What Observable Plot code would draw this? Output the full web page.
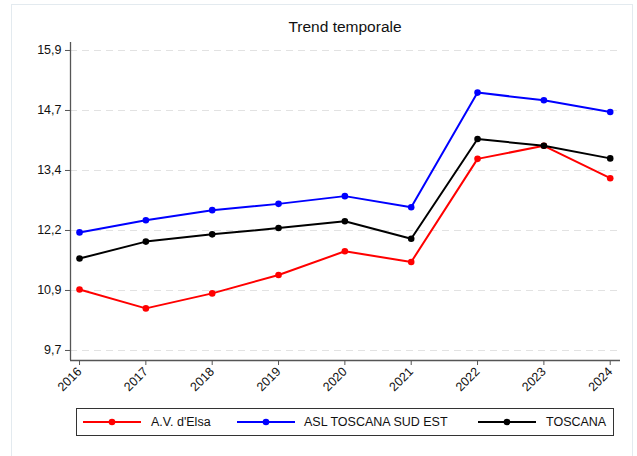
<!DOCTYPE html>
<html><head><meta charset="utf-8">
<script src="https://cdn.jsdelivr.net/npm/d3@7"></script>
<script src="https://cdn.jsdelivr.net/npm/@observablehq/plot@0.6"></script>
<style>
html,body{margin:0;padding:0;background:#fff;}
body{width:637px;height:456px;overflow:hidden;position:relative;font-family:"Liberation Sans",Arial,sans-serif;color:#111;}
#frame{position:absolute;left:11px;top:4px;width:622px;height:480px;border:1px solid #e3eaef;box-sizing:border-box;pointer-events:none;}
#title{height:22px;padding-top:18px;line-height:18px;font-size:15.5px;text-align:center;padding-left:70px;padding-right:17px;}
#chart svg{display:block;}
#legend{position:relative;margin-left:76px;margin-top:3px;width:538px;height:28px;border:1px solid #333;box-sizing:border-box;font-size:12.5px;}
.item-sw{position:absolute;top:8px;}
.item-tx{position:absolute;top:0;line-height:26px;white-space:nowrap;}
</style>
</head><body>
<div id="frame"></div>
<div id="title">Trend temporale</div>
<div id="chart"></div>
<div id="legend"></div>
<script>
const years = [2016, 2017, 2018, 2019, 2020, 2021, 2022, 2023, 2024];
const avElsa = [10.96, 10.57, 10.88, 11.26, 11.75, 11.53, 13.66, 13.93, 13.26];
const aslSudEst = [12.14, 12.39, 12.60, 12.73, 12.89, 12.66, 15.03, 14.87, 14.63];
const toscana = [11.60, 11.95, 12.10, 12.23, 12.37, 12.01, 14.07, 13.93, 13.67];
const seriesNames = ["A.V. d'Elsa", "ASL TOSCANA SUD EST", "TOSCANA"];
const seriesColors = ["#ff0000", "#0000ff", "#000000"];
const yTicks = [9.7, 10.94, 12.18, 13.42, 14.66, 15.9];
const yTickLabels = ["9,7", "10,9", "12,2", "13,4", "14,7", "15,9"];
const xDomain = [2015.864, 2024.155];
const yDomain = [9.493, 16.065];

const seriesValues = [avElsa, aslSudEst, toscana];
const data = [];
seriesNames.forEach((s, si) => years.forEach((yr, i) => data.push({series: s, year: yr, value: seriesValues[si][i]})));

const axisColor = "#555";
const marks = [
  Plot.gridY(yTicks, {stroke: "#e2e2e2", strokeOpacity: 1, strokeDasharray: "7,5", strokeWidth: 1}),
  Plot.ruleX([xDomain[0]], {stroke: axisColor, strokeWidth: 1.3}),
  Plot.ruleY([yDomain[0]], {stroke: axisColor, strokeWidth: 1.3}),
  Plot.axisY(yTicks, {label: null, tickFormat: d => yTickLabels[yTicks.indexOf(d)], tickSize: 5, tickPadding: 4, stroke: axisColor, fill: "#111", fontSize: 12.5}),
  Plot.axisX(years, {label: null, tickFormat: d => String(d), tickRotate: -45, tickSize: 5, tickPadding: 4, stroke: axisColor, fill: "#111", fontSize: 12.5})
];
seriesNames.forEach((s, si) => {
  const sub = data.filter(d => d.series === s);
  marks.push(Plot.line(sub, {x: "year", y: "value", stroke: seriesColors[si], strokeWidth: 2}));
  marks.push(Plot.dot(sub, {x: "year", y: "value", fill: seriesColors[si], r: 3.3}));
});

const chart = Plot.plot({
  width: 637,
  height: 365,
  marginLeft: 70,
  marginRight: 17,
  marginTop: 2,
  marginBottom: 45,
  x: {domain: xDomain, label: null},
  y: {domain: yDomain, label: null},
  style: {fontFamily: "'Liberation Sans', Arial, sans-serif", fontSize: "12.5px", color: "#111", background: "transparent"},
  marks
});
document.getElementById("chart").appendChild(chart);

// legend
const legend = document.getElementById("legend");
const swLeft = [6, 160, 401];
const txLeft = [74, 227, 469];
seriesNames.forEach((s, i) => {
  const sw = d3.create("svg").attr("class", "item-sw").attr("width", 58).attr("height", 10)
    .style("left", swLeft[i] + "px");
  sw.append("line").attr("x1", 0).attr("x2", 58).attr("y1", 5).attr("y2", 5)
    .attr("stroke", seriesColors[i]).attr("stroke-width", 2);
  sw.append("circle").attr("cx", 29).attr("cy", 5).attr("r", 3.3).attr("fill", seriesColors[i]);
  legend.appendChild(sw.node());
  const tx = document.createElement("div");
  tx.className = "item-tx";
  tx.style.left = txLeft[i] + "px";
  tx.textContent = s;
  legend.appendChild(tx);
});
</script>
</body></html>
